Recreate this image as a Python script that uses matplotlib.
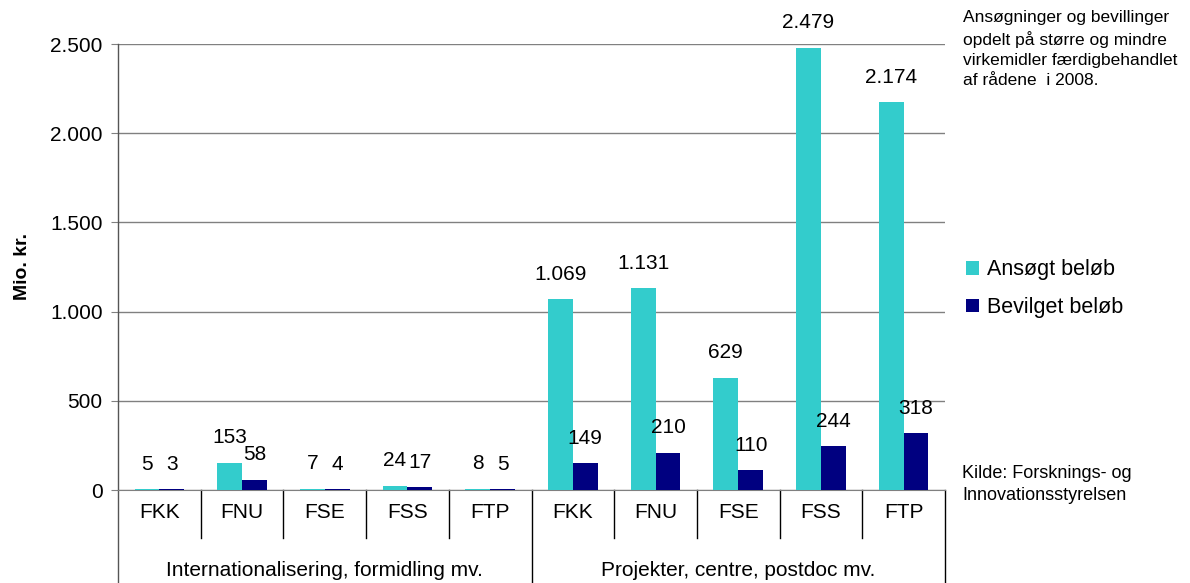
import numpy as np
import matplotlib.pyplot as plt
from matplotlib.lines import Line2D

plt.rcParams['font.family'] = ['Liberation Sans', 'DejaVu Sans']

# data
raad = ['FKK', 'FNU', 'FSE', 'FSS', 'FTP', 'FKK', 'FNU', 'FSE', 'FSS', 'FTP']
grupper = ['Internationalisering, formidling mv.', 'Projekter, centre, postdoc mv.']
ansoegt = [5, 153, 7, 24, 8, 1069, 1131, 629, 2479, 2174]
bevilget = [3, 58, 4, 17, 5, 149, 210, 110, 244, 318]
yticks = [0, 500, 1000, 1500, 2000, 2500]
ytick_labels = ['0', '500', '1.000', '1.500', '2.000', '2.500']

c_ans = '#33CCCC'
c_bev = '#000080'
fs = 15

def fmt(v):
    return f'{v:,}'.replace(',', '.')

fig = plt.figure(figsize=(11.9, 5.83), dpi=100)
ax = fig.add_axes([118/1190, 1-490/583, (945-118)/1190, (490-44)/583])

x = np.arange(len(raad))
w = 0.3
ax.bar(x - w/2, ansoegt, w, color=c_ans, label='Ansøgt beløb', zorder=3)
ax.bar(x + w/2, bevilget, w, color=c_bev, label='Bevilget beløb', zorder=3)

for xi, v in zip(x - w/2, ansoegt):
    ax.annotate(fmt(v), (xi, v), xytext=(0, 14), textcoords='offset points',
                ha='center', va='baseline', fontsize=fs)
for xi, v in zip(x + w/2, bevilget):
    ax.annotate(fmt(v), (xi, v), xytext=(0, 14), textcoords='offset points',
                ha='center', va='baseline', fontsize=fs)

ax.set_xlim(-0.5, len(raad) - 0.5)
ax.set_ylim(0, 2500)
ax.set_yticks(yticks)
ax.set_yticklabels(ytick_labels, fontsize=fs)
ax.yaxis.grid(True, color='#808080', linewidth=1, zorder=0)
ax.tick_params(axis='y', length=5, color='#808080', pad=6)
ax.set_xticks(x)
ax.set_xticklabels(raad, fontsize=fs)
ax.tick_params(axis='x', length=0, pad=9)
for s in ['top', 'right', 'left']:
    ax.spines[s].set_visible(False)
ax.spines['bottom'].set_color('#808080')

ax.set_ylabel('Mio. kr.', fontsize=14, fontweight='bold', labelpad=14)

# separators under the axis
tr = ax.get_xaxis_transform()
for b in np.arange(0.5, len(raad) - 1, 1.0):
    if b == 4.5:
        y0 = -0.21
    else:
        y0 = -0.108
    ax.add_line(Line2D([b, b], [0, y0], transform=tr, color='black', lw=1, clip_on=False))
ax.add_line(Line2D([-0.5, -0.5], [1, -0.21], transform=tr, color='#555555', lw=1, clip_on=False))
ax.add_line(Line2D([9.5, 9.5], [0, -0.21], transform=tr, color='black', lw=1, clip_on=False))

ax.text(2, -0.18, grupper[0], transform=tr, ha='center', va='center', fontsize=fs)
ax.text(7, -0.18, grupper[1], transform=tr, ha='center', va='center', fontsize=fs)

leg = fig.legend(loc='upper left', bbox_to_anchor=(947/1190, 1-240/583), frameon=False,
                 fontsize=15.5, handlelength=0.6, handleheight=0.6, handletextpad=0.35,
                 labelspacing=0.78)

fig.text(963/1190, 1-10/583,
         'Ansøgninger og bevillinger\nopdelt på større og mindre\nvirkemidler færdigbehandlet\naf rådene  i 2008.',
         ha='left', va='top', fontsize=12.5, linespacing=1.42)
fig.text(962/1190, 1-465/583, 'Kilde: Forsknings- og\nInnovationsstyrelsen',
         ha='left', va='top', fontsize=13, linespacing=1.35)

fig.savefig('out.png', dpi=100)
